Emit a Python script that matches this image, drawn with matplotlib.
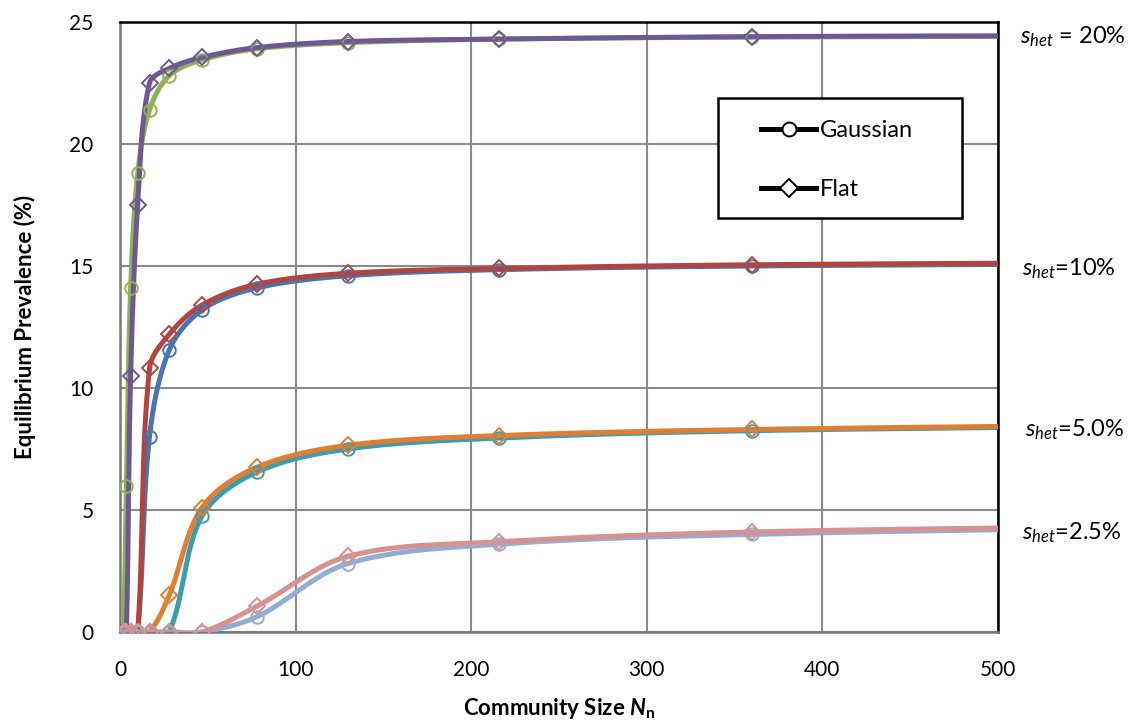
import numpy as np
import matplotlib
matplotlib.use("Agg")
import matplotlib.pyplot as plt
from matplotlib.lines import Line2D
from matplotlib.patches import Rectangle

plt.rcParams['font.family'] = ['Lato', 'DejaVu Sans']
plt.rcParams['mathtext.fontset'] = 'custom'
plt.rcParams['mathtext.rm'] = 'Lato'
plt.rcParams['mathtext.it'] = 'Lato:italic'
plt.rcParams['mathtext.bf'] = 'Lato:bold'
has_bfit = 'mathtext.bfit' in plt.rcParams
if has_bfit:
    plt.rcParams['mathtext.bfit'] = 'Lato:bold:italic'

# ---- data ----
community_size = [2.18, 3.63, 6.05, 10.08, 16.8, 28.0, 46.7, 77.8, 129.6, 216.0, 360.0, 600.0]

gauss_20 = [0, 6.0, 14.1, 18.8, 21.4, 22.8, 23.45, 23.9, 24.15, 24.3, 24.38, 24.42]
flat_20 = [0, 0, 10.5, 17.5, 22.5, 23.1, 23.55, 23.95, 24.2, 24.3, 24.4, 24.45]
gauss_10 = [0, 0, 0, 0, 8.0, 11.55, 13.2, 14.1, 14.6, 14.85, 15.0, 15.1]
flat_10 = [0, 0, 0, 0, 10.8, 12.2, 13.4, 14.25, 14.7, 14.9, 15.05, 15.15]
gauss_5 = [0, 0, 0, 0, 0, 0, 4.75, 6.55, 7.5, 7.95, 8.25, 8.45]
flat_5 = [0, 0, 0, 0, 0, 1.5, 5.1, 6.75, 7.65, 8.05, 8.3, 8.5]
gauss_25 = [0, 0, 0, 0, 0, 0, 0, 0.62, 2.8, 3.6, 4.0, 4.3]
flat_25 = [0, 0, 0, 0, 0, 0, 0, 1.05, 3.1, 3.7, 4.1, 4.35]

series = [
    (gauss_20, 'o', '#8db255'),
    (flat_20, 'D', '#6f5795'),
    (gauss_10, 'o', '#4676b0'),
    (flat_10, 'D', '#b2443f'),
    (gauss_5, 'o', '#3c9cb3'),
    (flat_5, 'D', '#e07f32'),
    (gauss_25, 'o', '#93acd6'),
    (flat_25, 'D', '#d69291'),
]

group_labels = [r'$s_{het}$ = 20%', r'$s_{het}$=10%', r'$s_{het}$=5.0%', r'$s_{het}$=2.5%']
group_label_y = [24.4, 14.9, 8.3, 4.05]
group_label_x = [1020, 1022, 1025, 1022]

W, H = 1134, 722
fig = plt.figure(figsize=(W / 100, H / 100), dpi=100)
ax = fig.add_axes([120 / W, 1 - 632 / H, (998 - 120) / W, (632 - 22) / H])
ax.set_xlim(0, 500)
ax.set_ylim(0, 25)

SX = 878 / 500.0
SY = 610 / 25.0


def smooth(xs, ys, n=40):
    """Smoothed line through the points (chord-weighted cubic Bezier, in screen scale)."""
    P = np.column_stack([np.asarray(xs) * SX, np.asarray(ys) * SY]).astype(float)
    out = []
    for i in range(len(P) - 1):
        p1 = P[i]
        p2 = P[i + 1]
        d12 = np.linalg.norm(p2 - p1)
        if i > 0:
            p0 = P[i - 1]
            d01 = np.linalg.norm(p1 - p0)
            tot = d01 + d12
            c1 = p1 + (p2 - p0) * (d12 / tot if tot > 0 else 0) / 3.0
        else:
            c1 = p1 + (p2 - p1) / 3.0
        if i + 2 < len(P):
            p3 = P[i + 2]
            d23 = np.linalg.norm(p3 - p2)
            tot = d12 + d23
            c2 = p2 - (p3 - p1) * (d12 / tot if tot > 0 else 0) / 3.0
        else:
            c2 = p2 - (p2 - p1) / 3.0
        t = np.linspace(0, 1, n)[:, None]
        seg = ((1 - t) ** 3) * p1 + 3 * ((1 - t) ** 2) * t * c1 + 3 * (1 - t) * t ** 2 * c2 + t ** 3 * p2
        out.append(seg if i == 0 else seg[1:])
    out = np.vstack(out)
    return out[:, 0] / SX, out[:, 1] / SY


for ys, mk, col in series:
    sx, sy = smooth(community_size, ys)
    ax.plot(sx, sy, color=col, lw=3.6, solid_capstyle='round', zorder=3)
    ax.plot(community_size, ys, linestyle='none', marker=mk, ms=9 if mk == 'o' else 8.5,
            mfc='none', mec=col, mew=1.4, zorder=4)

ax.set_xticks([0, 100, 200, 300, 400, 500])
ax.set_yticks([0, 5, 10, 15, 20, 25])
ax.grid(True, color='#8a8a8a', lw=1.5, zorder=0)
ax.set_axisbelow(True)
ax.tick_params(length=0, labelsize=15)
ax.tick_params(axis='x', pad=20)
ax.tick_params(axis='y', pad=19)

for side in ['left', 'bottom']:
    ax.spines[side].set_color('#7a7a7a')
    ax.spines[side].set_linewidth(1.8)
for side in ['top', 'right']:
    ax.spines[side].set_color('black')
    ax.spines[side].set_linewidth(1.8)

ax.set_ylabel('Equilibrium Prevalence (%)', fontsize=16, fontweight='bold', labelpad=24)
nlab = r'$\mathbfit{N}_{\mathbf{n}}$' if has_bfit else r'$\mathbf{\mathit{N}}_{\mathbf{n}}$'
ax.set_xlabel('Community Size ' + nlab, fontsize=16, fontweight='bold', labelpad=12)

# right-hand labels
for lab, yv, xp in zip(group_labels, group_label_y, group_label_x):
    yp = ax.transData.transform((0, yv))[1]
    fig.text(xp / W, yp / H, lab, fontsize=17, va='center', ha='left')

# legend box
ax_w, ax_h = 878.0, 610.0
ax.add_patch(Rectangle(((718 - 120) / ax_w, (632 - 218) / ax_h), (962 - 718) / ax_w, (218 - 98) / ax_h,
                       transform=ax.transAxes, facecolor='white', edgecolor='black', lw=1.8, zorder=6))
handles = [
    Line2D([0], [0], color='black', lw=3.6, marker='o', ms=10, mfc='white', mec='black', mew=1.4),
    Line2D([0], [0], color='black', lw=3.6, marker='D', ms=9, mfc='white', mec='black', mew=1.4),
]
leg = ax.legend(handles, ['Gaussian', 'Flat'], loc='center left',
                bbox_to_anchor=((761 - 120) / ax_w, (632 - 160) / ax_h),
                fontsize=17, frameon=False, labelspacing=1.6, handlelength=2.35,
                handletextpad=0.15, borderpad=0, borderaxespad=0)
leg.set_zorder(7)

fig.savefig('out.png', dpi=100, facecolor='white')
